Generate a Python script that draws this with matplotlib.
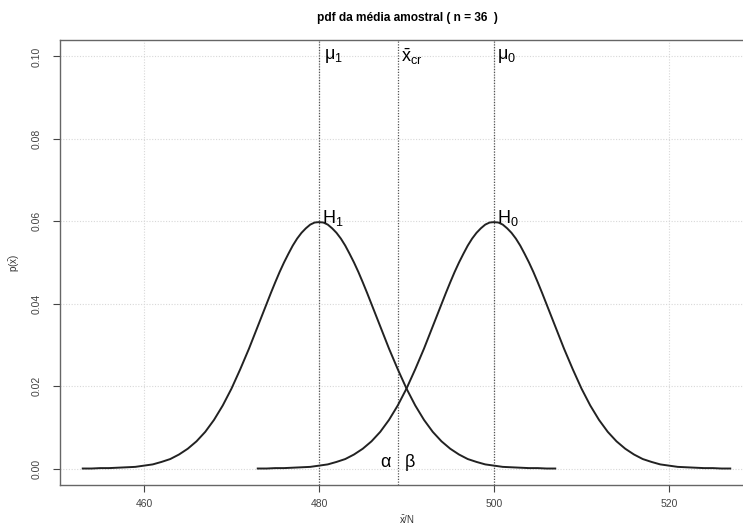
import numpy as np
import matplotlib
matplotlib.use("Agg")
import matplotlib.pyplot as plt

plt.rcParams['font.family'] = ['Liberation Sans', 'DejaVu Sans']
plt.rcParams['mathtext.fontset'] = 'custom'
plt.rcParams['mathtext.rm'] = 'Liberation Sans'
plt.rcParams['mathtext.it'] = 'Liberation Sans'
plt.rcParams['mathtext.bf'] = 'Liberation Sans:bold'

# values (finer steps around the peaks)
x_h1 = [453, 454, 455, 456, 457, 458, 459, 460, 461, 462, 463, 464, 465, 466,
        467, 468, 469, 470, 471,
        472, 472.5, 473, 473.5, 474, 474.5, 475, 475.5, 476, 476.5, 477, 477.5,
        478, 478.5, 479, 479.5, 480, 480.5, 481, 481.5, 482, 482.5, 483, 483.5,
        484, 484.5, 485, 485.5, 486, 486.5, 487, 487.5, 488,
        489, 490, 491, 492, 493, 494, 495, 496, 497, 498, 499, 500, 501, 502,
        503, 504, 505, 506, 507]
y_h1 = [0.0000, 0.0000, 0.0001, 0.0001, 0.0002, 0.0003, 0.0004, 0.0007, 0.0010,
        0.0016, 0.0023, 0.0034, 0.0048, 0.0066, 0.0089, 0.0118, 0.0153, 0.0194,
        0.0241,
        0.0291, 0.0318, 0.0345, 0.0372, 0.0399, 0.0426, 0.0452, 0.0477, 0.0500,
        0.0521, 0.0541, 0.0558, 0.0572, 0.0583, 0.0592, 0.0597, 0.0598, 0.0597,
        0.0592, 0.0583, 0.0572, 0.0558, 0.0541, 0.0521, 0.0500, 0.0477, 0.0452,
        0.0426, 0.0399, 0.0372, 0.0345, 0.0318, 0.0291,
        0.0241, 0.0194, 0.0153, 0.0118, 0.0089, 0.0066, 0.0048, 0.0034, 0.0023,
        0.0016, 0.0010, 0.0007, 0.0004, 0.0003, 0.0002, 0.0001, 0.0001, 0.0000,
        0.0000]

x_h0 = [473, 474, 475, 476, 477, 478, 479, 480, 481, 482, 483, 484, 485, 486,
        487, 488, 489, 490, 491,
        492, 492.5, 493, 493.5, 494, 494.5, 495, 495.5, 496, 496.5, 497, 497.5,
        498, 498.5, 499, 499.5, 500, 500.5, 501, 501.5, 502, 502.5, 503, 503.5,
        504, 504.5, 505, 505.5, 506, 506.5, 507, 507.5, 508,
        509, 510, 511, 512, 513, 514, 515, 516, 517, 518, 519, 520, 521, 522,
        523, 524, 525, 526, 527]
y_h0 = [0.0000, 0.0000, 0.0001, 0.0001, 0.0002, 0.0003, 0.0004, 0.0007, 0.0010,
        0.0016, 0.0023, 0.0034, 0.0048, 0.0066, 0.0089, 0.0118, 0.0153, 0.0194,
        0.0241,
        0.0291, 0.0318, 0.0345, 0.0372, 0.0399, 0.0426, 0.0452, 0.0477, 0.0500,
        0.0521, 0.0541, 0.0558, 0.0572, 0.0583, 0.0592, 0.0597, 0.0598, 0.0597,
        0.0592, 0.0583, 0.0572, 0.0558, 0.0541, 0.0521, 0.0500, 0.0477, 0.0452,
        0.0426, 0.0399, 0.0372, 0.0345, 0.0318, 0.0291,
        0.0241, 0.0194, 0.0153, 0.0118, 0.0089, 0.0066, 0.0048, 0.0034, 0.0023,
        0.0016, 0.0010, 0.0007, 0.0004, 0.0003, 0.0002, 0.0001, 0.0001, 0.0000,
        0.0000]

mu1 = 480
mu0 = 500
x_cr = 489.03

x_ticks = [460, 480, 500, 520]
y_ticks = [0.00, 0.02, 0.04, 0.06, 0.08, 0.10]

fig = plt.figure(figsize=(7.43, 5.31), dpi=100)
ax = fig.add_axes([60/743, 46/531, 693/743, 445/531])

ax.set_xlim(450.4, 529.6)
ax.set_ylim(-0.004, 0.104)

# light dotted grid
for gx in x_ticks:
    ax.axvline(gx, color='#d8d8d8', lw=0.8, ls=(0, (1, 1.5)), zorder=0)
for gy in y_ticks:
    ax.axhline(gy, color='#d8d8d8', lw=0.8, ls=(0, (1, 1.5)), zorder=0)

# reference lines
for vx in [mu1, x_cr, mu0]:
    ax.axvline(vx, color='#555555', lw=0.9, ls=(0, (1, 1.2)), zorder=1)

ax.plot(x_h1, y_h1, color='#222222', lw=1.4, zorder=3)
ax.plot(x_h0, y_h0, color='#222222', lw=1.4, zorder=3)

ax.text(480.6, 0.1, r'$\mu_1$', fontsize=13, ha='left', va='center')
ax.text(489.4, 0.1, r'$\bar{\mathrm{x}}_{cr}$', fontsize=13, ha='left', va='center')
ax.text(500.4, 0.1, r'$\mu_0$', fontsize=13, ha='left', va='center')
ax.text(480.3, 0.0608, r'$\mathrm{H}_1$', fontsize=13, ha='left', va='center')
ax.text(500.4, 0.0608, r'$\mathrm{H}_0$', fontsize=13, ha='left', va='center')
ax.text(487.7, 0.0014, r'$\alpha$', fontsize=13, ha='center', va='center')
ax.text(490.4, 0.0014, r'$\beta$', fontsize=13, ha='center', va='center')

ax.set_xticks(x_ticks)
ax.set_yticks(y_ticks)
ax.set_yticklabels(['%.2f' % v for v in y_ticks], rotation=90, va='center')
ax.tick_params(axis='both', labelsize=7.5, colors='#444444', length=5, width=0.8)
ax.tick_params(axis='x', pad=5)
ax.tick_params(axis='y', pad=8)
for s in ax.spines.values():
    s.set_color('#666666')
    s.set_linewidth(1.0)

fig.text(407/743, 1 - 519/531, r'$\bar{x}$/N', fontsize=7, color='#333333',
         ha='center', va='center')
ax.set_ylabel(r'$p(\bar{x})$', fontsize=7, color='#333333', labelpad=8)

fig.text(407/743, 1 - 18/531, 'pdf da média amostral ( n = 36  )', fontsize=8.6,
         fontweight='bold', ha='center', va='center')

fig.savefig('out.png', dpi=100)
